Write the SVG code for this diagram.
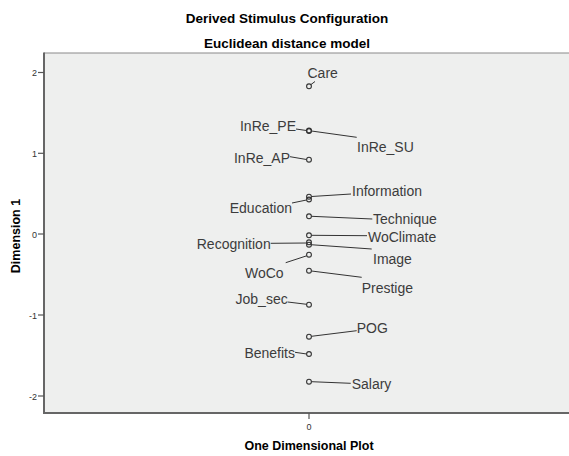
<svg xmlns="http://www.w3.org/2000/svg" width="569" height="456" viewBox="0 0 569 456">
<style>
.title{font-family:"Liberation Sans",Arial,sans-serif;font-weight:bold;font-size:13.5px;fill:#000;text-anchor:middle}
.axl{font-family:"Liberation Sans",Arial,sans-serif;font-weight:bold;font-size:12.5px;fill:#000;text-anchor:middle}
.tick{font-family:"Liberation Sans",Arial,sans-serif;font-size:9px;fill:#333}
.lab{font-family:"Liberation Sans",Arial,sans-serif;font-size:14px;fill:#3c3c3c}
.pt{fill:none;stroke:#333;stroke-width:1.1}
.ln{stroke:#333;stroke-width:1;fill:none}
.ax{stroke:#666;stroke-width:2;fill:none}
.tk{stroke:#555;stroke-width:1.2}
</style>
<rect x="0" y="0" width="569" height="456" fill="#fff"/>
<text class="title" x="287" y="23">Derived Stimulus Configuration</text>
<text class="title" x="287" y="48">Euclidean distance model</text>
<g id="plot-area">
<rect x="44" y="53" width="530" height="360" fill="#eeefee"/>
<line x1="44" y1="53" x2="569" y2="53" stroke="#8a8a8a" stroke-width="1.2"/>
<line class="ax" x1="44" y1="52.5" x2="44" y2="414"/>
<line class="ax" x1="43" y1="413" x2="569" y2="413"/>
</g>
<g id="y-axis">
<line class="tk" x1="38" y1="72.5" x2="44" y2="72.5"/>
<line class="tk" x1="38" y1="153.3" x2="44" y2="153.3"/>
<line class="tk" x1="38" y1="234" x2="44" y2="234"/>
<line class="tk" x1="38" y1="315" x2="44" y2="315"/>
<line class="tk" x1="38" y1="396" x2="44" y2="396"/>
<text class="tick" x="37" y="76" text-anchor="end">2</text>
<text class="tick" x="37" y="156.5" text-anchor="end">1</text>
<text class="tick" x="37" y="237.5" text-anchor="end">0</text>
<text class="tick" x="37" y="318.5" text-anchor="end">-1</text>
<text class="tick" x="37" y="399.5" text-anchor="end">-2</text>
<text class="axl" transform="translate(20,236) rotate(-90)" font-size="12">Dimension 1</text>
</g>
<g id="x-axis">
<line class="tk" x1="309" y1="413" x2="309" y2="419"/>
<text class="tick" x="309" y="430" text-anchor="middle">0</text>
<text class="axl" x="309" y="450">One Dimensional Plot</text>
</g>
<g id="connectors">
<line class="ln" x1="311" y1="84.5" x2="315" y2="81.5"/>
<line class="ln" x1="296" y1="129" x2="306.5" y2="130.5"/>
<line class="ln" x1="311.5" y1="131" x2="356.7" y2="137.3"/>
<line class="ln" x1="290" y1="156.7" x2="306.5" y2="159.5"/>
<line class="ln" x1="311.5" y1="196.5" x2="351" y2="194"/>
<line class="ln" x1="292" y1="203" x2="306.5" y2="200"/>
<line class="ln" x1="311.5" y1="216.3" x2="372.3" y2="219"/>
<line class="ln" x1="311.5" y1="235.3" x2="367" y2="235.7"/>
<line class="ln" x1="270.7" y1="243.3" x2="306.7" y2="243"/>
<line class="ln" x1="310.7" y1="244.7" x2="371.7" y2="249"/>
<line class="ln" x1="306.7" y1="255.8" x2="285.7" y2="262.7"/>
<line class="ln" x1="311.5" y1="271" x2="361.7" y2="277.3"/>
<line class="ln" x1="287.7" y1="302" x2="306.7" y2="304.3"/>
<line class="ln" x1="311.5" y1="336.3" x2="356.7" y2="330.7"/>
<line class="ln" x1="295" y1="352.3" x2="306.7" y2="354"/>
<line class="ln" x1="311.5" y1="381.7" x2="350.7" y2="383.3"/>
</g>
<g id="node-care"><circle class="pt" cx="309" cy="86.3" r="2.4"/><text class="lab" x="307.5" y="78.3">Care</text></g>
<g id="node-inre-pe"><circle class="pt" cx="309" cy="130.5" r="2.4"/><text class="lab" x="296" y="130.5" text-anchor="end">InRe_PE</text></g>
<g id="node-inre-su"><circle class="pt" cx="309" cy="131" r="2.4"/><text class="lab" x="357" y="152">InRe_SU</text></g>
<g id="node-inre-ap"><circle class="pt" cx="309" cy="159.7" r="2.4"/><text class="lab" x="290" y="163" text-anchor="end">InRe_AP</text></g>
<g id="node-information"><circle class="pt" cx="309" cy="196.7" r="2.4"/><text class="lab" x="352" y="196">Information</text></g>
<g id="node-education"><circle class="pt" cx="309" cy="199.5" r="2.4"/><text class="lab" x="292" y="213" text-anchor="end">Education</text></g>
<g id="node-technique"><circle class="pt" cx="309" cy="216.3" r="2.4"/><text class="lab" x="373" y="224">Technique</text></g>
<g id="node-woclimate"><circle class="pt" cx="309" cy="235.3" r="2.4"/><text class="lab" x="368" y="241.5">WoClimate</text></g>
<g id="node-recognition"><circle class="pt" cx="309" cy="242.3" r="2.4"/><text class="lab" x="270.7" y="249.3" text-anchor="end">Recognition</text></g>
<g id="node-image"><circle class="pt" cx="309" cy="244.7" r="2.4"/><text class="lab" x="373" y="264">Image</text></g>
<g id="node-woco"><circle class="pt" cx="309" cy="254.7" r="2.4"/><text class="lab" x="245" y="277.5">WoCo</text></g>
<g id="node-prestige"><circle class="pt" cx="309" cy="270.7" r="2.4"/><text class="lab" x="361.7" y="292.7">Prestige</text></g>
<g id="node-job-sec"><circle class="pt" cx="309" cy="304.7" r="2.4"/><text class="lab" x="287.7" y="304" text-anchor="end">Job_sec</text></g>
<g id="node-pog"><circle class="pt" cx="309" cy="336.7" r="2.4"/><text class="lab" x="356.7" y="332.5">POG</text></g>
<g id="node-benefits"><circle class="pt" cx="309" cy="354" r="2.4"/><text class="lab" x="295" y="358" text-anchor="end">Benefits</text></g>
<g id="node-salary"><circle class="pt" cx="309" cy="381.7" r="2.4"/><text class="lab" x="351.7" y="389.3">Salary</text></g>
</svg>
